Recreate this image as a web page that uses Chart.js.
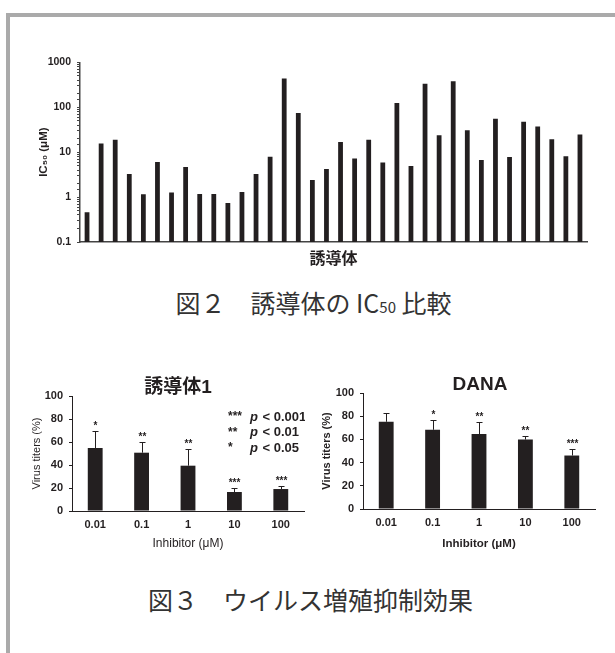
<!DOCTYPE html>
<html lang="ja">
<head>
<meta charset="utf-8">
<title>誘導体の IC50 比較 / ウイルス増殖抑制効果</title>
<script src="https://cdn.jsdelivr.net/npm/chart.js@4.4.1/dist/chart.umd.min.js"></script>
<style>
  html, body { margin: 0; padding: 0; background: #fff; width: 615px; height: 653px; overflow: hidden; position: relative; }
  .frame { position: absolute; left: 6px; top: 13px; width: 700px; height: 700px; border: 4px solid #aaaaaa; box-sizing: border-box; }
  canvas { position: absolute; }
  .cap { position: absolute; width: 615px; text-align: center; font-family: "Noto Sans CJK JP", sans-serif;
         font-size: 25px; line-height: 25px; color: #333; white-space: pre; }
  .cap .small { font-size: 15px; }
</style>
</head>
<body>
<div class="frame"></div>
<canvas id="ic50" width="580" height="225" style="left:20px;top:50px"></canvas>
<div class="cap" style="left:6px;top:290px">図２　誘導体の IC<span class="small">50</span> 比較</div>
<canvas id="deriv1" width="290" height="195" style="left:15px;top:365px"></canvas>
<canvas id="dana" width="295" height="195" style="left:305px;top:365px"></canvas>
<div class="cap" style="left:3px;top:587px">図３　ウイルス増殖抑制効果</div>

<script>
// ---- IC50 of each derivative (µM), one bar per compound ----
const compounds = ['1','2','3','4','5','6','7','8','9','10','11','12','13','14','15','16','17','18',
                   '19','20','21','22','23','24','25','26','27','28','29','30','31','32','33','34','35','36'];
const ic50Values = [0.46, 15.5, 19, 3.26, 1.16, 6.0, 1.26, 4.65, 1.17, 1.17, 0.74, 1.3,
                    3.26, 7.9, 435, 74, 2.4, 4.2, 16.9, 7.2, 19, 5.9, 124, 4.9,
                    331, 23.8, 380, 30.7, 6.65, 55.6, 7.75, 47.7, 37, 19.4, 8.15, 24.6];
const ic50Ticks = [0.1, 1, 10, 100, 1000];

// ---- virus titers (%) against inhibitor concentration ----
const doses = ['0.01', '0.1', '1', '10', '100'];
const deriv1Titer = [54.8, 50.7, 39.4, 16.5, 19.1];
const deriv1Sd    = [14.5, 9.3, 14.2, 3.5, 2.9];
const deriv1Marks = ['*', '**', '**', '***', '***'];
const danaTiter   = [75.2, 68.3, 64.6, 59.9, 46.1];
const danaSd      = [7.5, 8.7, 10.3, 2.9, 5.8];
const danaMarks   = ['', '*', '**', '**', '***'];
const titerTicks  = [0, 20, 40, 60, 80, 100];
const sigLegend   = [['***', '< 0.001'], ['**', '< 0.01'], ['*', '< 0.05']];

const INK = '#231f20';
const SANS = '"Liberation Sans", Arial, "Noto Sans CJK JP", sans-serif';
const CJK = '"Noto Sans CJK JP", "Liberation Sans", sans-serif';
Chart.defaults.font.family = SANS;
Chart.defaults.color = INK;

// ---- IC50 comparison (log scale) ----
new Chart(document.getElementById('ic50'), {
  type: 'bar',
  data: {
    labels: compounds,
    datasets: [{ data: ic50Values, backgroundColor: INK, barPercentage: 0.34, categoryPercentage: 1 }]
  },
  options: {
    responsive: false, animation: false, devicePixelRatio: 1,
    layout: { padding: { top: 11, right: 13, left: 0, bottom: 0 } },
    plugins: { legend: { display: false }, tooltip: { enabled: false } },
    scales: {
      x: {
        ticks: { display: false },
        grid: { display: false, drawTicks: false },
        border: { color: '#444', width: 1.5 },
        title: { display: true, text: '誘導体', color: INK,
                 font: { family: CJK, size: 16, weight: 'bold' }, padding: { top: 0, bottom: 7.4 } },
        afterFit(s) { s.height = 33; }
      },
      y: {
        type: 'logarithmic', min: 0.1, max: 1000,
        ticks: {
          autoSkip: false, padding: 6, color: INK,
          font: { size: 10.5, weight: 'bold' },
          callback(v) {
            const t = ic50Ticks.find(k => Math.abs(k - v) / k < 1e-6);
            return t === undefined ? '' : String(t);
          }
        },
        grid: { drawOnChartArea: false, tickLength: 3, tickColor: '#444', tickWidth: 1 },
        border: { color: '#444', width: 1.5 },
        title: { display: true, text: 'IC₅₀ (μM)', color: INK,
                 font: { size: 11.5, weight: 'bold' }, padding: { top: 17, bottom: 0 } },
        afterFit(s) { s.width = 60; }
      }
    }
  }
});

// ---- titer charts with one-sided SD bars and significance marks ----
function titerChart(id, opts) {
  const overlay = {
    id: 'overlay_' + id,
    afterDatasetsDraw(chart) {
      const { ctx, chartArea, scales: { y } } = chart;
      const meta = chart.getDatasetMeta(0);
      ctx.save();
      ctx.strokeStyle = INK;
      ctx.fillStyle = INK;
      ctx.lineWidth = 1;
      meta.data.forEach((bar, i) => {
        const x = Math.round(bar.x) + 0.5;
        const yBar = y.getPixelForValue(opts.values[i]);
        const yTop = Math.round(y.getPixelForValue(opts.values[i] + opts.sd[i])) + 0.5;
        ctx.beginPath();
        ctx.moveTo(x, yBar);
        ctx.lineTo(x, yTop);
        ctx.moveTo(x - 3, yTop);
        ctx.lineTo(x + 3, yTop);
        ctx.stroke();
        if (opts.marks[i]) {
          ctx.font = 'bold 10px ' + SANS;
          ctx.textAlign = 'center';
          ctx.textBaseline = 'middle';
          ctx.fillText(opts.marks[i], x, yTop - 5);
        }
      });
      // chart heading
      ctx.font = 'bold 19px ' + SANS;
      ctx.textAlign = 'center';
      ctx.textBaseline = 'middle';
      ctx.fillText(opts.title, (chartArea.left + chartArea.right) / 2 + opts.titleShift, chartArea.top - 8);
      // significance key
      if (opts.key) {
        const x0 = chartArea.left + 156, xp = chartArea.left + 178;
        sigLegend.forEach((row, k) => {
          const yy = chartArea.top + 21 + k * 15.5;
          ctx.textAlign = 'left';
          ctx.font = 'bold 12px ' + SANS;
          ctx.fillText(row[0], x0, yy);
          ctx.font = 'italic bold 13px ' + SANS;
          ctx.fillText('p', xp, yy);
          const pw = ctx.measureText('p ').width;
          ctx.font = 'bold 13px ' + SANS;
          ctx.fillText(row[1], xp + pw + 1, yy);
        });
      }
      ctx.restore();
    }
  };

  new Chart(document.getElementById(id), {
    type: 'bar',
    data: {
      labels: doses,
      datasets: [{ data: opts.values, backgroundColor: INK, barPercentage: 0.32, categoryPercentage: 1 }]
    },
    options: {
      responsive: false, animation: false, devicePixelRatio: 1,
      layout: { padding: { top: opts.top, right: opts.right, left: 0, bottom: 0 } },
      plugins: { legend: { display: false }, tooltip: { enabled: false } },
      scales: {
        x: {
          ticks: { color: INK, font: { size: 11, weight: 'bold' }, padding: 7 },
          grid: { display: false, drawTicks: false },
          border: { color: INK, width: 1 },
          title: { display: true, text: 'Inhibitor (μM)', color: INK,
                   font: { size: opts.boldTitles ? 11.5 : 12, weight: opts.boldTitles ? 'bold' : 'normal' },
                   padding: { top: 0, bottom: 8.8 } },
          afterFit(s) { s.height = opts.xHeight; }
        },
        y: {
          min: 0, max: 100,
          afterBuildTicks(s) { s.ticks = titerTicks.map(v => ({ value: v })); },
          ticks: { color: INK, font: { size: 11, weight: 'bold' }, padding: 6 },
          grid: { drawOnChartArea: false, tickLength: 3, tickColor: INK },
          border: { color: INK, width: 1 },
          title: { display: true, text: 'Virus titers (%)', color: INK,
                   font: { size: 11, weight: opts.boldTitles ? 'bold' : 'normal' },
                   padding: { top: 15.4, bottom: 0 } },
          afterFit(s) { s.width = opts.yWidth; }
        }
      }
    },
    plugins: [overlay]
  });
}

titerChart('deriv1', {
  title: '誘導体1', titleShift: -10, values: deriv1Titer, sd: deriv1Sd, marks: deriv1Marks, key: true,
  top: 31, right: 1, xHeight: 49, yWidth: 57, boldTitles: false
});
titerChart('dana', {
  title: 'DANA', titleShift: 1, values: danaTiter, sd: danaSd, marks: danaMarks, key: false,
  top: 28, right: 5, xHeight: 51, yWidth: 58, boldTitles: true
});
</script>
</body>
</html>
